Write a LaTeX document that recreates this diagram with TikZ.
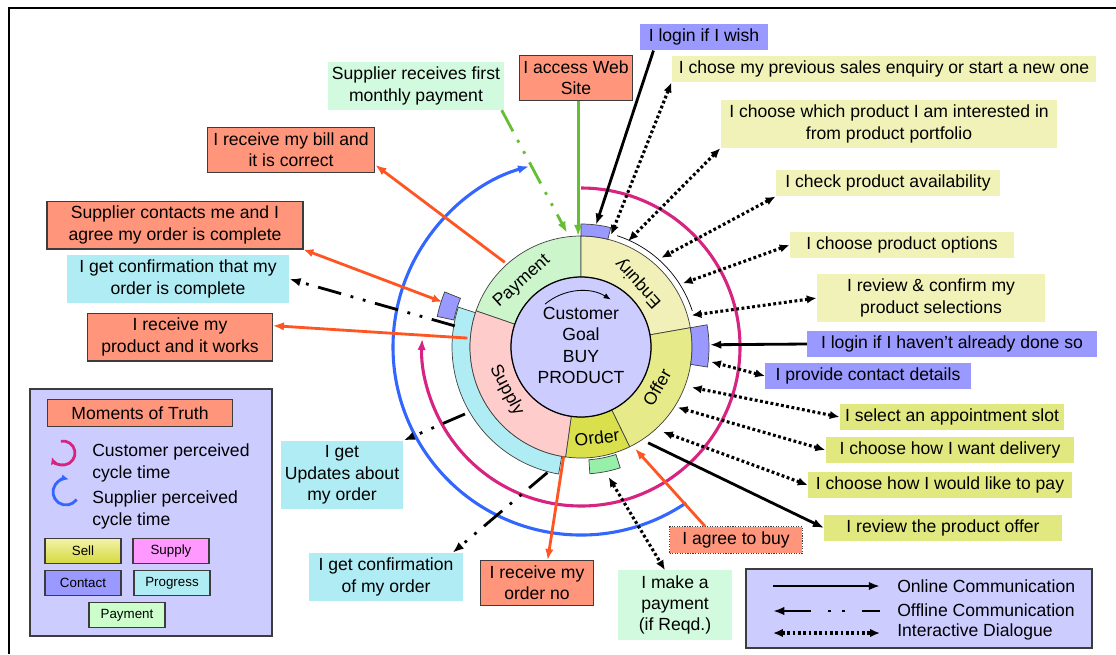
\documentclass[tikz,border=0pt]{standalone}
\usepackage{fontspec}
\setmainfont{Liberation Sans}
\usetikzlibrary{arrows.meta}

\definecolor{truth}{RGB}{255,150,124}
\definecolor{truthred}{RGB}{255,85,34}
\definecolor{sellA}{RGB}{240,242,184}
\definecolor{sellB}{RGB}{226,232,128}
\definecolor{contact}{RGB}{153,153,255}
\definecolor{progress}{RGB}{176,236,244}
\definecolor{paygreen}{RGB}{210,250,222}
\definecolor{paystroke}{RGB}{102,190,50}
\definecolor{lavender}{RGB}{204,204,255}
\definecolor{custcycle}{RGB}{214,36,128}
\definecolor{suppcycle}{RGB}{51,102,255}
\definecolor{enqfill}{RGB}{240,240,184}
\definecolor{offerfill}{RGB}{230,234,136}
\definecolor{orderfill}{RGB}{218,224,76}
\definecolor{supplyfill}{RGB}{255,204,204}
\definecolor{paymentfill}{RGB}{204,245,204}
\definecolor{paymentkey}{RGB}{204,255,204}
\definecolor{slotgreen}{RGB}{150,240,170}
\definecolor{supplykey}{RGB}{255,153,255}
\definecolor{boxline}{RGB}{60,60,60}

% one band of the wheel: colour, from angle, to angle, inner r, outer r
\newcommand{\wheelband}[5]{%
  \filldraw[fill=#1, draw=black!75, line width=0.5pt]
    (#2:#4) arc[start angle=#2, end angle=#3, radius=#4]
    -- (#3:#5) arc[start angle=#3, end angle=#2, radius=#5] -- cycle;}

\begin{document}
\begin{tikzpicture}[x=0.025cm, y=-0.025cm,
  every node/.style={font=\fontsize{12.5}{15.2}\selectfont},
  card/.style={align=center, inner xsep=3pt, inner ysep=3.6pt, minimum height=18.4pt},
  truthbox/.style={card, fill=truth, draw=boxline, line width=0.8pt},
  sellbox/.style={card, fill=sellA},
  offerbox/.style={card, fill=sellB},
  contactbox/.style={card, fill=contact},
  progressbox/.style={card, fill=progress},
  paybox/.style={card, fill=paygreen},
  keybox/.style={draw=boxline, line width=0.8pt, minimum width=54pt, minimum height=17.5pt,
    inner sep=1pt, font=\fontsize{9.5}{11}\selectfont},
  ringlabel/.style={inner sep=0pt},
  online/.style={line width=2pt},
  offline/.style={line width=2pt, dash pattern=on 17pt off 7pt on 2pt off 7pt on 2pt off 7pt},
  dialog/.style={line width=2.2pt, dash pattern=on 2pt off 1.8pt},
  truthline/.style={line width=2pt, draw=truthred},
  head/.style={-{Latex[length=8pt,width=6pt]}},
  backhead/.style={{Latex[length=8pt,width=6pt]}-},
  twohead/.style={{Latex[length=7pt,width=6pt]}-{Latex[length=7pt,width=6pt]}},
]
\useasboundingbox (0,0) rectangle (1116,654);

% frame
\draw[line width=1.6pt] (9,654) -- (9,8) -- (1116,8);

% the wheel
\begin{scope}[shift={(581,347)}, yscale=-1]
  % cycle times
  \draw[suppcycle, line width=2.2pt, head] (-56:188) arc[start angle=-56, end angle=-254, radius=188];
  \draw[custcycle, line width=2.2pt, head] (90:159) arc[start angle=90, end angle=-183, radius=159];

  \wheelband{progress}{162}{260}{111}{129}
  \wheelband{paymentfill}{90}{161}{70}{111}
  \wheelband{enqfill}{10}{90}{70}{111}
  \wheelband{offerfill}{-64}{10}{70}{111}
  \wheelband{orderfill}{-98}{-64}{70}{111}
  \wheelband{supplyfill}{161}{262}{70}{111}
  \filldraw[fill=lavender, draw=black, line width=0.9pt] (0,0) circle[radius=70];
  \draw[line width=0.5pt] (72:117) arc[start angle=72, end angle=18, radius=117];

  % contact and payment slots
  \wheelband{contact}{76}{90}{111}{123}
  \wheelband{contact}{-9}{10}{111}{128}
  \wheelband{contact}{158}{168}{130}{147}
  \wheelband{slotgreen}{-86}{-72}{113}{127}

  \draw[line width=0.6pt, -{Latex[length=5pt,width=4pt]}] (130:56) arc[start angle=130, end angle=58, radius=56];
  \node[align=center, inner sep=0pt] (goal) at (0,1.5) {Customer\\Goal\\BUY\\PRODUCT};

  \node[ringlabel, rotate=42] (lblPay) at (132:88) {Payment};
  \node[ringlabel, rotate=132] (lblEnq) at (48:86) {Enquiry};
  \node[ringlabel, rotate=60] (lblOff) at (-28:86) {Offer};
  \node[ringlabel, rotate=-62] (lblSup) at (210:86) {Supply};
  \node[ringlabel, rotate=7] (lblOrd) at (-80:92) {Order};

  % where the lines meet the wheel
  \coordinate (wWeb) at (91.5:111);
  \coordinate (wFirstPay) at (97:115);
  \coordinate (wWish) at (83:123);
  \coordinate (wPrev) at (75:116);
  \coordinate (wWhich) at (66:116);
  \coordinate (wAvail) at (48:120);
  \coordinate (wOptions) at (32:120);
  \coordinate (wReview) at (16:115);
  \coordinate (wLogin) at (1:129);
  \coordinate (wContact) at (-6.5:131);
  \coordinate (wSlot) at (-20:118);
  \coordinate (wDelivery) at (-32:114);
  \coordinate (wPayHow) at (-46:118);
  \coordinate (wReviewOffer) at (-55:117);
  \coordinate (wAgree) at (-62:115);
  \coordinate (wMakePay) at (-78:133);
  \coordinate (wOrderNo) at (-99:111);
  \coordinate (wConfOrder) at (-105:130);
  \coordinate (wUpdates) at (210:134);
  \coordinate (wWorks) at (175.5:114);
  \coordinate (wComplete) at (170.5:128);
  \coordinate (wSuppC) at (162:146);
  \coordinate (wBill) at (132:114);
\end{scope}

% steps round the wheel
\node[truthbox, minimum width=80pt] (web) at (576, 78) {I access Web\\Site};
\node[paybox, minimum width=123.3pt] (firstPay) at (416, 86) {Supplier receives first\\monthly payment};
\node[contactbox, minimum width=90.7pt] (wish) at (704, 37) {I login if I wish};
\node[sellbox, minimum width=302pt] (prevEnq) at (884, 69) {I chose my previous sales enquiry or start a new one};
\node[sellbox, minimum width=239.5pt] (whichProd) at (889, 124) {I choose which product I am interested in\\from product portfolio};
\node[sellbox, minimum width=159.5pt] (avail) at (888, 183) {I check product availability};
\node[sellbox, minimum width=159.5pt] (options) at (902, 245) {I choose product options};
\node[sellbox, minimum width=162.3pt] (reviewSel) at (931, 298) {I review \& confirm my\\product selections};
\node[contactbox, minimum width=206pt] (loginAgain) at (952, 344) {I login if I haven’t already done so};
\node[contactbox, minimum width=146pt] (contactDet) at (868, 376) {I provide contact details};
\node[offerbox, minimum width=159.5pt] (slot) at (952, 417) {I select an appointment slot};
\node[offerbox, minimum width=177pt] (delivery) at (950, 450) {I choose how I want delivery};
\node[offerbox, minimum width=187.8pt] (payHow) at (940, 485) {I choose how I would like to pay};
\node[offerbox, minimum width=168.7pt] (reviewOffer) at (943, 528) {I review the product offer};
\node[truthbox, densely dotted, minimum width=94.3pt] (agree) at (736, 540) {I agree to buy};
\node[paybox, minimum width=81.5pt] (makePay) at (675, 605) {I make a\\payment\\(if Reqd.)};
\node[truthbox, minimum width=80pt] (orderNo) at (537, 583) {I receive my\\order no};
\node[progressbox, minimum width=109pt] (confOrder) at (386, 577) {I get confirmation\\of my order};
\node[progressbox, minimum width=83.6pt] (updates) at (342, 475) {I get\\Updates about\\my order};
\node[truthbox, minimum width=131pt] (productWorks) at (180, 337) {I receive my\\product and it works};
\node[progressbox, minimum width=158pt] (confComplete) at (178, 279) {I get confirmation that my\\order is complete};
\node[truthbox, minimum width=182pt] (suppContacts) at (175, 225) {Supplier contacts me and I\\agree my order is complete};
\node[truthbox, minimum width=119pt] (bill) at (291, 150) {I receive my bill and\\it is correct};

% connectors
\draw[online, paystroke, head] (web.south -| wWeb) -- (wWeb);
\draw[offline, paystroke, head] ([xshift=-2pt]firstPay.south east) -- (wFirstPay);
\draw[online, head] (wish.195) -- (wWish);
\draw[dialog, twohead] (prevEnq.south west) -- (wPrev);
\draw[dialog, twohead] (whichProd.south west) -- (wWhich);
\draw[dialog, twohead] (avail.south west) -- (wAvail);
\draw[dialog, twohead] (options.west) -- (wOptions);
\draw[dialog, twohead] (reviewSel.west) -- (wReview);
\draw[online, head] (loginAgain.west) -- (wLogin);
\draw[dialog, twohead] (contactDet.west) -- (wContact);
\draw[dialog, twohead] (slot.west) -- (wSlot);
\draw[dialog, twohead] (delivery.west) -- (wDelivery);
\draw[dialog, twohead] (payHow.west) -- (wPayHow);
\draw[online, head] (wReviewOffer) -- (reviewOffer.west);
\draw[truthline, head] (agree.156) -- (wAgree);
\draw[dialog, twohead] (wMakePay) -- (makePay.106);
\draw[truthline, head] (wOrderNo) -- (orderNo.65);
\draw[offline, head] (wConfOrder) -- (confOrder.20);
\draw[offline, head] (wUpdates) -- (updates.north east);
\draw[truthline, head] (wWorks) -- (productWorks.7);
\draw[offline, head] (wComplete) -- (confComplete.east);
\draw[truthline, twohead] (suppContacts.south east) -- (wSuppC);
\draw[truthline, head] (wBill) -- (bill.-10);

% key, left
\filldraw[fill=lavender, draw=boxline, line width=0.8pt] (30,389) rectangle (272,636);
\node[truthbox, minimum width=131.8pt, minimum height=19pt] (moments) at (140, 413) {Moments of Truth};
\begin{scope}[shift={(63,453)}, yscale=-1]
  \draw[custcycle, line width=2pt, -{Latex[length=5pt,width=5pt]}] (100:12) arc[start angle=100, end angle=-160, radius=12];
\end{scope}
\begin{scope}[shift={(66,492)}, yscale=-1]
  \draw[suppcycle, line width=2pt, -{Latex[length=5pt,width=5pt]}] (-35:13) arc[start angle=-35, end angle=-282, radius=13];
\end{scope}
\node[anchor=west, align=left, inner sep=0pt] (custText) at (92, 463) {Customer perceived\\cycle time};
\node[anchor=west, align=left, inner sep=0pt] (suppText) at (92, 510) {Supplier perceived\\cycle time};
\node[keybox, top color={rgb,255:red,242;green,242;blue,170}, bottom color={rgb,255:red,214;green,218;blue,60}] (keySell) at (83, 551) {Sell};
\node[keybox, fill=supplykey] (keySupply) at (171, 551) {Supply};
\node[keybox, fill=contact] (keyContact) at (83, 583) {Contact};
\node[keybox, fill=progress] (keyProgress) at (172, 583) {Progress};
\node[keybox, fill=paymentkey] (keyPayment) at (127, 615) {Payment};

% key, right
\filldraw[fill=lavender, draw=boxline, line width=0.8pt] (746,569) rectangle (1092,648);
\node[anchor=west, inner sep=0pt] (txtOnline) at (897, 586) {Online Communication};
\node[anchor=west, inner sep=0pt] (txtOffline) at (897, 610) {Offline Communication};
\node[anchor=west, inner sep=0pt] (txtDialog) at (897, 632) {Interactive Dialogue};
\coordinate (onA) at (773, 586);
\coordinate (onB) at (880, 586);
\coordinate (offA) at (773, 611);
\coordinate (offB) at (880, 611);
\coordinate (dlgA) at (773, 633);
\coordinate (dlgB) at (880, 633);
\draw[online, head] (onA) -- (onB);
\draw[line width=2pt, dash pattern=on 20pt off 12pt on 2pt off 8pt on 2pt off 12pt, backhead] (offA) -- (offB);
\draw[dialog, twohead] (dlgA) -- (dlgB);
\end{tikzpicture}
\end{document}
